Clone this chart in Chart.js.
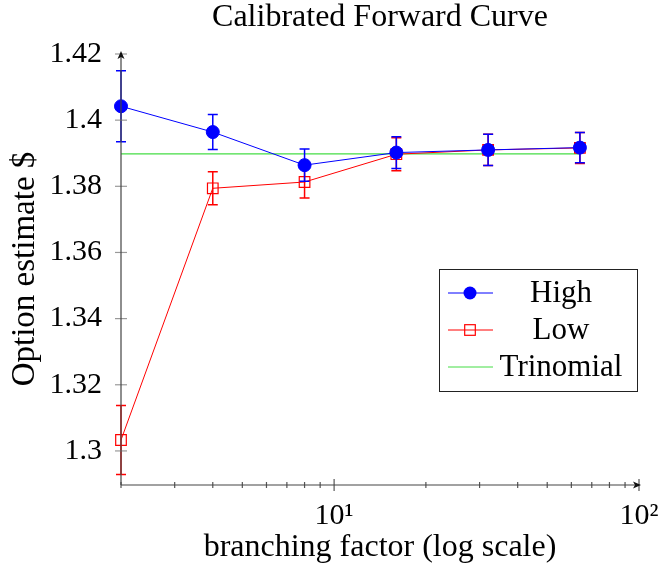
<!DOCTYPE html>
<html>
<head>
<meta charset="utf-8">
<script src="https://cdn.jsdelivr.net/npm/chart.js@4.4.0/dist/chart.umd.min.js"></script>
<style>
  html, body { margin: 0; padding: 0; background: #fff; }
  #wrap { width: 662px; height: 569px; }
</style>
</head>
<body>
<div id="wrap"><canvas id="forwardCurve"></canvas></div>
<script>
// branching factors (x axis, log scale)
const branching = [2, 4, 8, 16, 32, 64];

// option estimates and their error half-widths
const highValues = [1.4042, 1.3964, 1.3864, 1.3902, 1.3910, 1.3917];
const highErrors = [0.0107, 0.0053, 0.0049, 0.0048, 0.0047, 0.0046];
const lowValues = [1.3033, 1.3794, 1.3813, 1.3897, 1.3910, 1.3916];
const lowErrors = [0.0104, 0.0050, 0.0048, 0.0050, 0.0047, 0.0047];
const trinomialValue = 1.3898;

// tick values
const yTicks = [1.3, 1.32, 1.34, 1.36, 1.38, 1.4, 1.42];
const xTicks = [2, 3, 4, 5, 6, 7, 8, 9, 10, 20, 30, 40, 50, 60, 70, 80, 90, 100];
const xMajor = { 10: '10\u00B9', 100: '10\u00B2' };

const serif = '"Liberation Serif", "Times New Roman", serif';
const toPoints = (vals) => vals.map((v, i) => ({ x: branching[i], y: v }));

// error bars, axis ticks/arrows, title and legend
const decorations = {
  id: 'decorations',
  afterDatasetDraw(chart, args) {
    const ds = chart.data.datasets[args.index];
    if (!ds.errors) return;
    const { ctx, scales: { x, y } } = chart;
    ctx.save();
    ctx.strokeStyle = ds.borderColor;
    ctx.lineWidth = 1.5;
    ds.data.forEach((p, i) => {
      const px = x.getPixelForValue(p.x);
      const top = y.getPixelForValue(p.y + ds.errors[i]);
      const bot = y.getPixelForValue(p.y - ds.errors[i]);
      ctx.beginPath();
      ctx.moveTo(px, top); ctx.lineTo(px, bot);
      ctx.moveTo(px - 5, top); ctx.lineTo(px + 5, top);
      ctx.moveTo(px - 5, bot); ctx.lineTo(px + 5, bot);
      ctx.stroke();
    });
    ctx.restore();
  },
  afterDraw(chart) {
    const { ctx, chartArea: a, scales: { x, y } } = chart;
    ctx.save();
    // y tick marks
    ctx.strokeStyle = '#999';
    ctx.lineWidth = 1.2;
    yTicks.forEach((v) => {
      const py = y.getPixelForValue(v);
      ctx.beginPath(); ctx.moveTo(a.left - 6, py); ctx.lineTo(a.left + 6, py); ctx.stroke();
    });
    // x tick marks
    ctx.strokeStyle = '#555';
    xTicks.forEach((v) => {
      const px = x.getPixelForValue(v);
      const len = xMajor[v] ? 6 : 3;
      ctx.beginPath(); ctx.moveTo(px, a.bottom - len); ctx.lineTo(px, a.bottom + len); ctx.stroke();
    });
    // axis lines with arrows
    ctx.strokeStyle = '#444';
    ctx.fillStyle = '#111';
    ctx.lineWidth = 1.2;
    ctx.beginPath();
    ctx.moveTo(a.left, a.bottom); ctx.lineTo(a.left, a.top);
    ctx.moveTo(a.left, a.bottom); ctx.lineTo(a.right, a.bottom);
    ctx.stroke();
    ctx.beginPath();
    ctx.moveTo(a.left, a.top - 2); ctx.lineTo(a.left - 3.5, a.top + 6); ctx.lineTo(a.left, a.top + 4); ctx.lineTo(a.left + 3.5, a.top + 6);
    ctx.closePath(); ctx.fill();
    ctx.beginPath();
    ctx.moveTo(a.right + 2, a.bottom); ctx.lineTo(a.right - 6, a.bottom - 3.5); ctx.lineTo(a.right - 4, a.bottom); ctx.lineTo(a.right - 6, a.bottom + 3.5);
    ctx.closePath(); ctx.fill();

    // title centred over the plot
    ctx.fillStyle = '#000';
    ctx.font = '32px ' + serif;
    ctx.textAlign = 'center';
    ctx.textBaseline = 'middle';
    ctx.fillText('Calibrated Forward Curve', (a.left + a.right) / 2, 18);

    // legend box
    const lx = 439, ly = 269, lw = 198, rowH = 37;
    ctx.fillStyle = '#fff';
    ctx.fillRect(lx, ly, lw, 122);
    ctx.strokeStyle = '#222';
    ctx.lineWidth = 1;
    ctx.strokeRect(lx + 0.5, ly + 0.5, lw, 122);
    chart.data.datasets.forEach((ds, i) => {
      const cy = ly + 24 + i * rowH;
      ctx.strokeStyle = ds.borderColor;
      ctx.lineWidth = 1;
      ctx.beginPath(); ctx.moveTo(lx + 9, cy); ctx.lineTo(lx + 54, cy); ctx.stroke();
      if (ds.pointRadius) {
        ctx.fillStyle = ds.pointBackgroundColor;
        ctx.strokeStyle = ds.borderColor;
        ctx.lineWidth = 1.2;
        if (ds.pointStyle === 'circle') {
          ctx.beginPath(); ctx.arc(lx + 31, cy, ds.pointRadius, 0, Math.PI * 2); ctx.fill();
        } else {
          const s = ds.pointRadius * Math.SQRT1_2;
          ctx.strokeRect(lx + 31 - s, cy - s, 2 * s, 2 * s);
        }
      }
      ctx.fillStyle = '#000';
      ctx.font = '31px ' + serif;
      ctx.textAlign = 'center';
      ctx.fillText(ds.label, lx + 122, cy + 1);
    });
    ctx.restore();
  }
};

new Chart(document.getElementById('forwardCurve'), {
  type: 'line',
  data: {
    datasets: [
      {
        label: 'High',
        data: toPoints(highValues),
        errors: highErrors,
        borderColor: '#0000ff',
        backgroundColor: '#0000ff',
        pointBackgroundColor: '#0000ff',
        pointBorderColor: '#0000ff',
        pointStyle: 'circle',
        pointRadius: 6.5,
        borderWidth: 1,
        tension: 0,
      },
      {
        label: 'Low',
        data: toPoints(lowValues),
        errors: lowErrors,
        borderColor: '#ff0000',
        backgroundColor: 'rgba(0,0,0,0)',
        pointBackgroundColor: 'rgba(0,0,0,0)',
        pointBorderColor: '#ff0000',
        pointBorderWidth: 1.2,
        pointStyle: 'rect',
        pointRadius: 7.5,
        borderWidth: 1,
        tension: 0,
      },
      {
        label: 'Trinomial',
        data: branching.map((b) => ({ x: b, y: trinomialValue })),
        borderColor: '#44dd44',
        pointRadius: 0,
        borderWidth: 1.2,
        tension: 0,
      },
    ],
  },
  options: {
    responsive: true,
    maintainAspectRatio: false,
    animation: false,
    clip: false,
    layout: { padding: { top: 53, right: 23, left: 0, bottom: 0 } },
    plugins: { legend: { display: false }, title: { display: false }, tooltip: { enabled: false } },
    scales: {
      x: {
        type: 'logarithmic',
        min: 2,
        max: 100,
        afterFit: (s) => { s.height = 84; s.paddingLeft = 0; s.paddingRight = 0; },
        afterBuildTicks: (s) => { s.ticks = xTicks.map((v) => ({ value: v })); },
        grid: { display: false, drawTicks: false },
        border: { display: false },
        ticks: {
          autoSkip: false,
          maxRotation: 0,
          padding: 13,
          color: '#000',
          font: { family: serif, size: 30 },
          callback: (v) => xMajor[v] || '',
        },
        title: {
          display: true,
          text: 'branching factor (log scale)',
          color: '#000',
          font: { family: serif, size: 32 },
          padding: { top: 0, bottom: 2 },
        },
      },
      y: {
        min: 1.2897,
        max: 1.4203,
        afterFit: (s) => { s.width = 121; s.paddingTop = 0; s.paddingBottom = 0; },
        afterBuildTicks: (s) => { s.ticks = yTicks.map((v) => ({ value: v })); },
        grid: { display: false, drawTicks: false },
        border: { display: false },
        ticks: {
          padding: 19,
          color: '#000',
          font: { family: serif, size: 30 },
          callback: (v) => String(+v.toFixed(2)),
        },
        title: {
          display: true,
          text: 'Option estimate $',
          color: '#000',
          font: { family: serif, size: 33 },
          padding: { top: 6, bottom: 0 },
        },
      },
    },
  },
  plugins: [decorations],
});
</script>
</body>
</html>
